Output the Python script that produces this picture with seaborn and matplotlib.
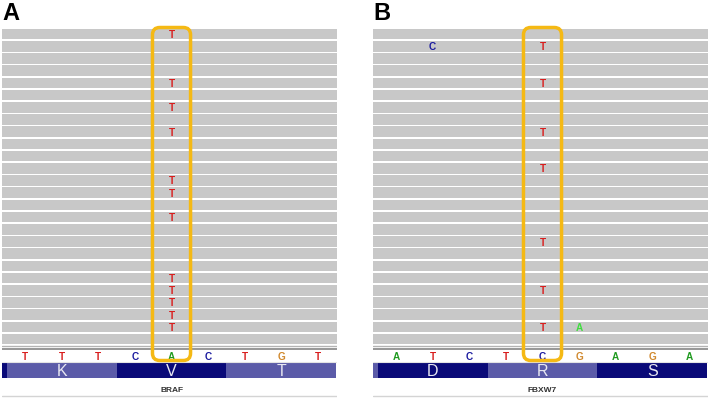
import matplotlib
matplotlib.use("Agg")
import matplotlib.pyplot as plt
from matplotlib.patches import FancyBboxPatch
import seaborn as sns

# ---- data ----
n_reads = 26

ref_a = ["T", "T", "T", "C", "A", "C", "T", "G", "T"]
codons_a = ["K", "V", "T"]
gene_a = "BRAF"
mism_rows_a = [0, 4, 6, 8, 12, 13, 15, 20, 21, 22, 23, 24]
mism_cols_a = [4] * 12
mism_bases_a = ["T"] * 12

ref_b = ["A", "T", "C", "T", "C", "G", "A", "G", "A"]
codons_b = ["D", "R", "S"]
gene_b = "FBXW7"
mism_rows_b = [1, 1, 4, 8, 11, 17, 21, 24, 24]
mism_cols_b = [1, 4, 4, 4, 4, 4, 4, 4, 5]
mism_bases_b = ["C", "T", "T", "T", "T", "T", "T", "T", "A"]

highlight_col = 4

base_colors = {"A": "#1f9a1f", "C": "#1c1ca0", "G": "#d1892e", "T": "#d81e1e"}
mism_colors = {"A": "#3fdc3f", "C": "#1c1ca0", "G": "#d1892e", "T": "#d81e1e"}
codon_light = "#5b5ba8"
codon_dark = "#0a0a78"

W, H = 709, 400
ROW_PX = 12.2
TOP_PX = 28


def px_rect(x0, y0, x1, y1):
    return [x0 / W, 1 - y1 / H, (x1 - x0) / W, (y1 - y0) / H]


def prow(px):
    # pixel row in the panel -> row units on the y axis
    return (px - TOP_PX) / ROW_PX - 0.5


def draw_panel(fig, rect, label, label_x, ref, codons, gene,
               mrows, mcols, mbases, first_dark):
    ax = fig.add_axes(rect)
    xlim = (-0.63, 8.52)
    ax.set_xlim(*xlim)
    ax.set_ylim(prow(399), prow(22))
    ax.axis("off")

    # reads
    ax.barh(list(range(n_reads)), width=xlim[1] - xlim[0], left=xlim[0],
            height=0.86, color="#c8c8c8", linewidth=0)

    # mismatches
    for r, c, b in zip(mrows, mcols, mbases):
        ax.text(c, r, b, ha="center", va="center_baseline", fontsize=7.2,
                fontweight="bold", color=mism_colors[b])

    # separator lines under the reads
    ax.axhline(prow(345.5), color="#b4b4b4", lw=1)
    ax.axhline(prow(348.5), color="#7a7a7a", lw=1.1)

    # reference sequence
    for i, b in enumerate(ref):
        ax.text(i, prow(355.5), b, ha="center", va="center_baseline",
                fontsize=7.2, fontweight="bold", color=base_colors[b])
    ax.axhline(prow(361.5), color="#e4e4e4", lw=0.8)

    # translated codons (one before the window + visible ones)
    y0, y1 = prow(363), prow(377.5)
    lefts = [-3.5] + [3 * k - 0.5 for k in range(len(codons))]
    cols = []
    for k in range(len(lefts)):
        dark = (k % 2 == 0) == first_dark
        cols.append(codon_dark if dark else codon_light)
    ax.barh([(y0 + y1) / 2] * len(lefts), width=3, left=lefts,
            height=y1 - y0, color=cols, linewidth=0)
    for k, aa in enumerate(codons):
        ax.text(3 * k + 1, (y0 + y1) / 2, aa, ha="center",
                va="center_baseline", fontsize=11.5, color="#e8e8f2")

    # gene name
    ax.text(highlight_col, prow(389), gene, ha="center", va="center_baseline",
            fontsize=6, fontweight="bold", color="#333333")
    ax.axhline(prow(396), color="#d4d4d4", lw=1)

    # highlight box around the variant column
    px_x = rect[2] * W / (xlim[1] - xlim[0])
    lo, hi = ax.get_ylim()
    px_y = rect[3] * H / (lo - hi)
    aspect = px_x / px_y
    bt, bb = prow(27.5), prow(360.5)
    box = FancyBboxPatch((highlight_col - 0.52, bt), 1.04, bb - bt,
                         boxstyle="round,pad=0,rounding_size=0.2",
                         mutation_aspect=aspect, fill=False,
                         edgecolor="#f5b914", linewidth=2.5, zorder=5)
    ax.add_patch(box)

    fig.text(label_x / W, 1 - 2 / H, label, ha="left", va="top",
             fontsize=17, fontweight="bold", color="black")
    return ax


sns.set_style("white")
plt.rcParams["font.family"] = ["Liberation Sans", "DejaVu Sans"]

fig = plt.figure(figsize=(W / 100, H / 100), dpi=100)
fig.patch.set_facecolor("white")

draw_panel(fig, px_rect(2, 22, 337, 399), "A", 2, ref_a, codons_a, gene_a,
           mism_rows_a, mism_cols_a, mism_bases_a, first_dark=True)
draw_panel(fig, px_rect(373, 22, 708, 399), "B", 373, ref_b, codons_b, gene_b,
           mism_rows_b, mism_cols_b, mism_bases_b, first_dark=False)

fig.savefig("out.png", dpi=100)
